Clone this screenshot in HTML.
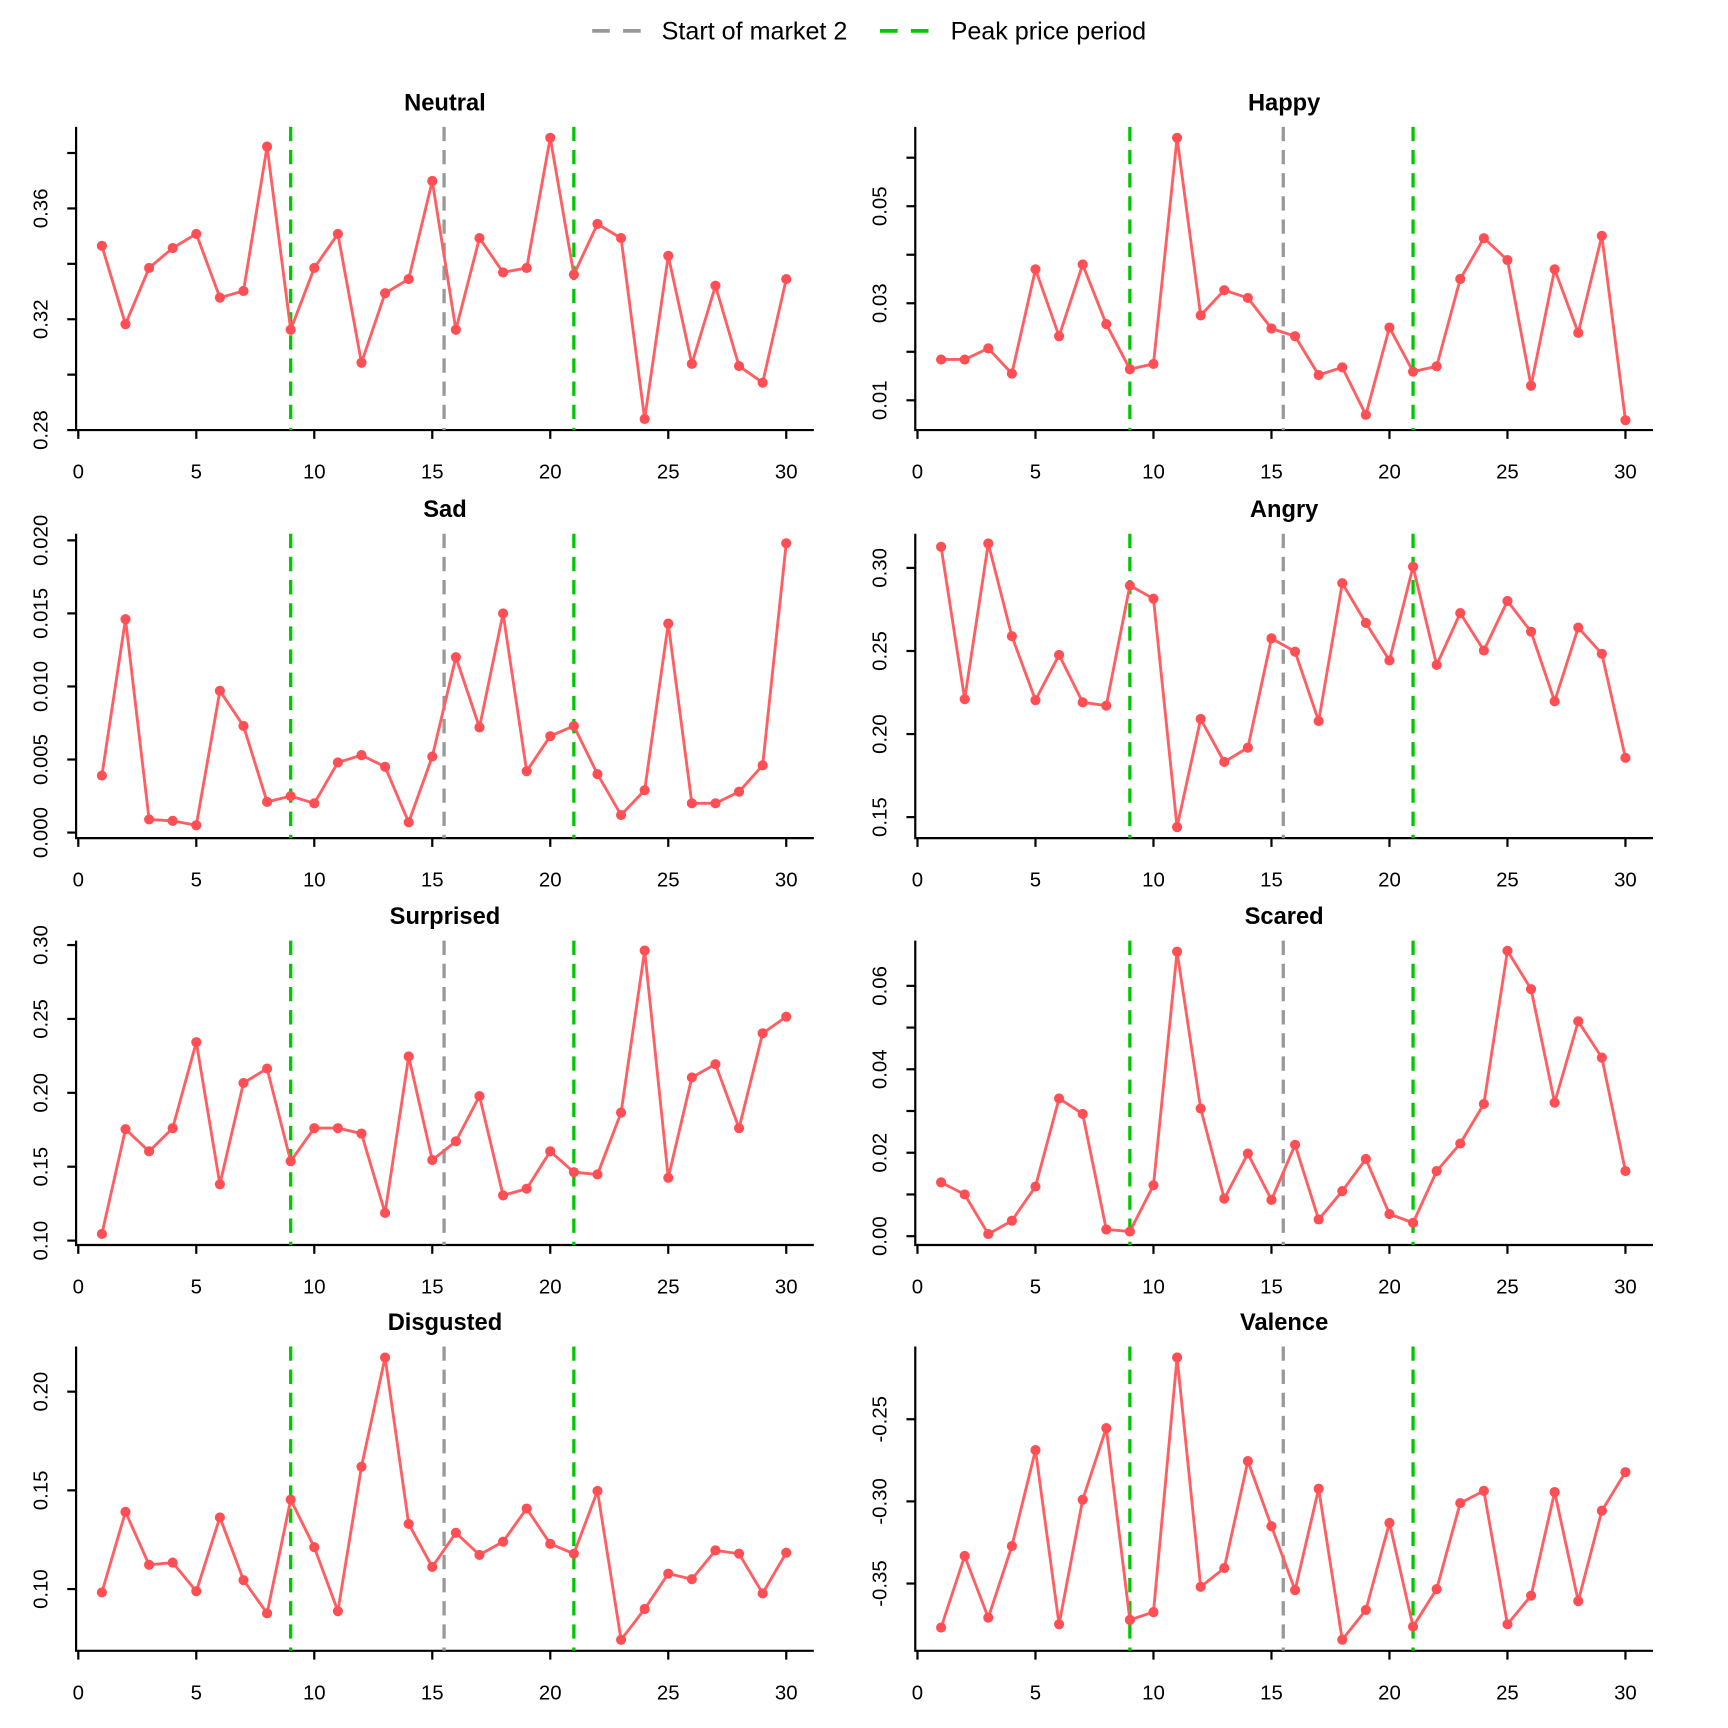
<!DOCTYPE html>
<html><head><meta charset="utf-8"><style>
html,body{margin:0;padding:0;background:#fff}
svg{display:block}
text{font-family:"Liberation Sans",Arial,sans-serif}
</style></head><body>
<svg id="chart" width="1728" height="1728" viewBox="0 0 1567 1567" xmlns="http://www.w3.org/2000/svg">
<g>
<line x1="537" y1="28" x2="583" y2="28" stroke="#999" stroke-width="3.5" stroke-dasharray="16,12"/>
<text x="600" y="36" font-size="22.8" fill="#000">Start of market 2</text>
<line x1="798" y1="28" x2="844" y2="28" stroke="#00c800" stroke-width="3.5" stroke-dasharray="16,12"/>
<text x="862" y="36" font-size="22.8" fill="#000">Peak price period</text>
</g>
</svg>
<script>
const xTicks=[0,5,10,15,20,25,30];
const greenLines=[9,21];
const grayLines=[15.5];
const neutralVals=[0.3465,0.3182,0.3385,0.3457,0.3508,0.3278,0.3302,0.3823,0.3162,0.3385,0.3508,0.3043,0.3294,0.3345,0.3699,0.3162,0.3493,0.3369,0.3385,0.3855,0.3361,0.3544,0.3493,0.284,0.3429,0.3039,0.3321,0.3031,0.2971,0.3345];
const happyVals=[0.0184,0.0184,0.0207,0.0155,0.037,0.0232,0.038,0.0257,0.0164,0.0175,0.0641,0.0275,0.0327,0.0311,0.0248,0.0232,0.0152,0.0168,0.007,0.025,0.0159,0.017,0.035,0.0434,0.0389,0.013,0.037,0.0239,0.0439,0.0059];
const sadVals=[0.0039,0.0146,0.0009,0.0008,0.0005,0.0097,0.0073,0.0021,0.0025,0.002,0.0048,0.0053,0.0045,0.0007,0.0052,0.012,0.0072,0.015,0.0042,0.0066,0.0073,0.004,0.0012,0.0029,0.0143,0.002,0.002,0.0028,0.0046,0.0198];
const angryVals=[0.3127,0.221,0.3147,0.2589,0.2204,0.2476,0.2191,0.2171,0.2894,0.2815,0.144,0.2091,0.1832,0.1918,0.2576,0.2496,0.2078,0.2908,0.2669,0.2443,0.3007,0.2416,0.2728,0.2503,0.2801,0.2616,0.2197,0.2641,0.2483,0.1857];
const surprisedVals=[0.1045,0.1754,0.1604,0.1761,0.2343,0.1381,0.2067,0.2164,0.1537,0.1761,0.1761,0.1724,0.1187,0.2246,0.1545,0.1672,0.1978,0.1306,0.1351,0.1604,0.1463,0.1448,0.1866,0.2963,0.1425,0.2104,0.2194,0.1761,0.2403,0.2515];
const scaredVals=[0.0129,0.01,0.0005,0.0037,0.0119,0.033,0.0293,0.0016,0.0011,0.0122,0.0682,0.0306,0.009,0.0198,0.0087,0.0219,0.004,0.0108,0.0185,0.0053,0.0032,0.0156,0.0222,0.0317,0.0684,0.0592,0.032,0.0515,0.0428,0.0156];
const disgustedVals=[0.0983,0.1391,0.1123,0.1134,0.0989,0.1363,0.1045,0.0877,0.1453,0.1212,0.0888,0.162,0.2173,0.133,0.1112,0.1285,0.1173,0.124,0.1408,0.1229,0.1179,0.1497,0.0743,0.0899,0.1078,0.105,0.1196,0.1179,0.0978,0.1184];
const valenceVals=[-0.3768,-0.3332,-0.3708,-0.3272,-0.2688,-0.3748,-0.299,-0.2554,-0.3721,-0.3674,-0.2124,-0.352,-0.3406,-0.2755,-0.3151,-0.354,-0.2923,-0.3842,-0.3661,-0.3131,-0.3762,-0.3534,-0.301,-0.2936,-0.3748,-0.3574,-0.2943,-0.3607,-0.3057,-0.2822];
const neutralTicks=[0.28,0.30,0.32,0.34,0.36,0.38];
const neutralLabels=["0.28","","0.32","","0.36",""];
const happyTicks=[0.01,0.02,0.03,0.04,0.05,0.06];
const happyLabels=["0.01","","0.03","","0.05",""];
const sadTicks=[0,0.005,0.01,0.015,0.02];
const sadLabels=["0.000","0.005","0.010","0.015","0.020"];
const angryTicks=[0.15,0.2,0.25,0.3];
const angryLabels=["0.15","0.20","0.25","0.30"];
const surprisedTicks=[0.1,0.15,0.2,0.25,0.3];
const surprisedLabels=["0.10","0.15","0.20","0.25","0.30"];
const scaredTicks=[0,0.01,0.02,0.03,0.04,0.05,0.06];
const scaredLabels=["0.00","","0.02","","0.04","","0.06"];
const disgustedTicks=[0.1,0.15,0.2];
const disgustedLabels=["0.10","0.15","0.20"];
const valenceTicks=[-0.35,-0.3,-0.25];
const valenceLabels=["-0.35","-0.30","-0.25"];

const panels=[
 {name:"Neutral",vals:neutralVals,ticks:neutralTicks,labels:neutralLabels,col:0,row:0,v0:0.28,p0:390,v1:0.36,p1:189},
 {name:"Happy",vals:happyVals,ticks:happyTicks,labels:happyLabels,col:1,row:0,v0:0.01,p0:363,v1:0.05,p1:187},
 {name:"Sad",vals:sadVals,ticks:sadTicks,labels:sadLabels,col:0,row:1,v0:0,p0:755,v1:0.02,p1:490},
 {name:"Angry",vals:angryVals,ticks:angryTicks,labels:angryLabels,col:1,row:1,v0:0.15,p0:741,v1:0.30,p1:515},
 {name:"Surprised",vals:surprisedVals,ticks:surprisedTicks,labels:surprisedLabels,col:0,row:2,v0:0.10,p0:1125,v1:0.30,p1:857},
 {name:"Scared",vals:scaredVals,ticks:scaredTicks,labels:scaredLabels,col:1,row:2,v0:0,p0:1121,v1:0.06,p1:894},
 {name:"Disgusted",vals:disgustedVals,ticks:disgustedTicks,labels:disgustedLabels,col:0,row:3,v0:0.10,p0:1441,v1:0.20,p1:1262},
 {name:"Valence",vals:valenceVals,ticks:valenceTicks,labels:valenceLabels,col:1,row:3,v0:-0.35,p0:1436,v1:-0.25,p1:1287}
];
const NS="http://www.w3.org/2000/svg";
const svg=document.getElementById('chart');
function mk(tag,attrs,parent){const e=document.createElementNS(NS,tag);for(const k in attrs)e.setAttribute(k,attrs[k]);parent.appendChild(e);return e;}
const colX0=[71,832], rowTop=[115,484,853,1221], rowBot=[390,760,1129,1497];
panels.forEach(p=>{
 const g=mk('g',{},svg);
 
 
 const x0=colX0[p.col], top=rowTop[p.row], bot=rowBot[p.row];
 const xs=v=>x0+v*(642/30);
 const ys=v=>p.p0+(v-p.v0)*(p.p1-p.p0)/(p.v1-p.v0);
 const left=x0-2, right=x0+667;
 const t=mk('text',{x:(left+right)/2,y:top-15,'font-size':21.5,'font-weight':'bold','text-anchor':'middle'},g);
 t.textContent=p.name;
 
 
 const ax=mk('path',{d:`M${left},${top}V${bot}H${right}`,stroke:'#000','stroke-width':2,fill:'none'},g);
 
 
 xTicks.forEach(v=>{
  mk('line',{x1:xs(v),x2:xs(v),y1:bot,y2:bot+8,stroke:'#000','stroke-width':2},g);
  const l=mk('text',{x:xs(v),y:bot+44,'font-size':18.5,'text-anchor':'middle'},g);
  l.textContent=v;
  
  
 });
 p.ticks.forEach((v,i)=>{
  const y=ys(v);
  mk('line',{x1:left,x2:left-8,y1:y,y2:y,stroke:'#000','stroke-width':2},g);
  if(p.labels[i]){
   const l=mk('text',{x:left-26,y:y,'font-size':18.5,'text-anchor':'middle',transform:`rotate(-90 ${left-26} ${y})`},g);
   l.textContent=p.labels[i];
   
   
  }
 });
 greenLines.forEach(v=>{
  const l=mk('line',{x1:xs(v),x2:xs(v),y1:top,y2:bot,stroke:'#00c800','stroke-width':3,'stroke-dasharray':'13,8'},g);
  
  
 });
 grayLines.forEach(v=>{
  const l=mk('line',{x1:xs(v),x2:xs(v),y1:top,y2:bot,stroke:'#999','stroke-width':3,'stroke-dasharray':'13,8'},g);
  
  
 });
 const pts=p.vals.map((v,i)=>xs(i+1).toFixed(1)+','+ys(v).toFixed(1)).join(' ');
 const pl=mk('polyline',{points:pts,fill:'none',stroke:'#ff5e62','stroke-width':2.6},g);
 
 
 p.vals.forEach((v,i)=>{
  const c=mk('circle',{cx:xs(i+1),cy:ys(v),r:4.6,fill:'#ff4f55'},g);
  
  
 });
});
</script>
</body></html>
